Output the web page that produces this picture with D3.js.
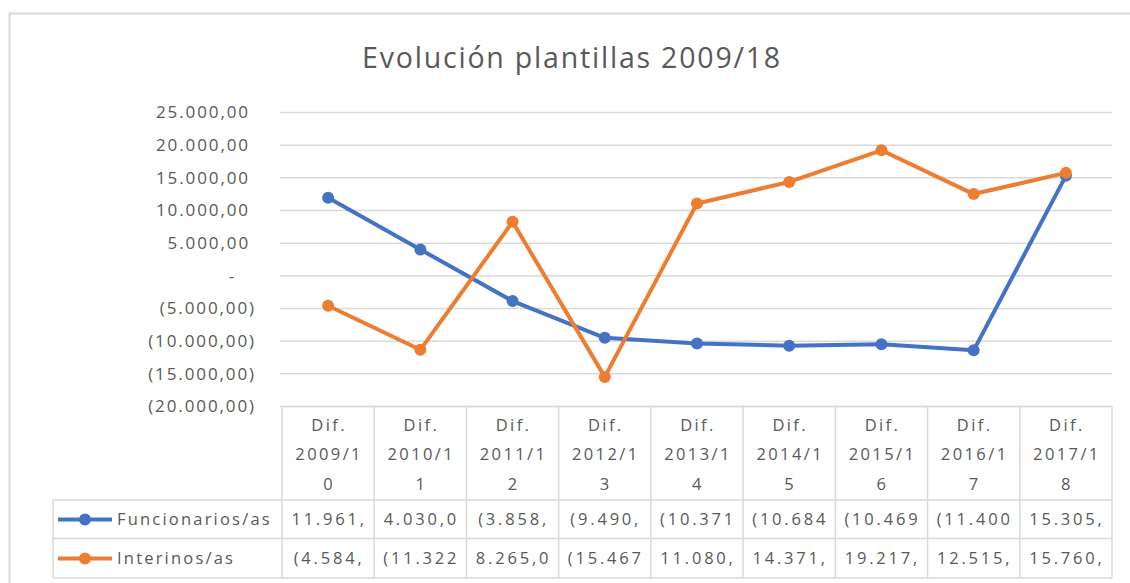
<!DOCTYPE html>
<html><head><meta charset="utf-8">
<script src="https://cdn.jsdelivr.net/npm/d3@7"></script>
<style>body{margin:0;background:#fff}svg{display:block}</style>
</head><body>
<svg id="c" width="1130" height="583"></svg>
<script>
const title = "Evolución plantillas 2009/18";
const categories = ["Dif. 2009/10","Dif. 2010/11","Dif. 2011/12","Dif. 2012/13","Dif. 2013/14","Dif. 2014/15","Dif. 2015/16","Dif. 2016/17","Dif. 2017/18"];
const seriesNames = ["Funcionarios/as","Interinos/as"];
const funcionarios = [11961, 4030, -3858, -9490, -10371, -10684, -10469, -11400, 15305];
const interinos = [-4584, -11322, 8265, -15467, 11080, 14371, 19217, 12515, 15760];
const yTicks = [-20000,-15000,-10000,-5000,0,5000,10000,15000,20000,25000];
const colors = ["#4472C4","#ED7D31"];

const svg = d3.select("#c");
const textColor = "#595959", gridColor = "#d9d9d9";
const font = "'Open Sans', sans-serif";
const loc = d3.formatLocale({decimal:",", thousands:".", grouping:[3], currency:["","€"]});
const fmt = loc.format(",.2f");

const series = [funcionarios, interinos].map((vals,i)=>({name:seriesNames[i], color:colors[i], values:vals}));

// outer frame
svg.append("rect").attr("x",9.5).attr("y",13.5).attr("width",1200).attr("height",700)
  .attr("fill","#fff").attr("stroke",gridColor).attr("stroke-width",2);

// title
svg.append("text").attr("x",572).attr("y",68).attr("text-anchor","middle")
  .attr("font-family",font).attr("font-size",28.5).attr("letter-spacing",1.8)
  .attr("fill",textColor).text(title);

const x = d3.scaleBand().domain(categories).range([282,1112]);
const y = d3.scaleLinear().domain([-20000,25000]).range([406.5,112.5]);

// gridlines
svg.append("g").selectAll("line").data(yTicks).join("line")
  .attr("x1",280).attr("x2",1112).attr("y1",d=>y(d)).attr("y2",d=>y(d))
  .attr("stroke",gridColor).attr("stroke-width",1.5);

// y axis
const yFmt = v => v===0 ? "-" : (v<0 ? "("+fmt(-v)+")" : fmt(v));
const yAxis = svg.append("g").attr("transform","translate(256,0)")
  .call(d3.axisLeft(y).tickValues(yTicks).tickSize(0).tickPadding(0).tickFormat(yFmt));
yAxis.select(".domain").remove();
yAxis.selectAll("text").attr("font-family",font).attr("font-size",17).attr("letter-spacing",1.9)
  .attr("fill",textColor)
  .attr("dx", d => d===0 ? -20 : (d>0 ? -6 : 0));

// lines
const line = d3.line().x((d,i)=>x(categories[i])+x.bandwidth()/2).y(d=>y(d));
const sg = svg.append("g").selectAll("g").data(series).join("g");
sg.append("path").attr("d",d=>line(d.values)).attr("fill","none")
  .attr("stroke",d=>d.color).attr("stroke-width",4).attr("stroke-linejoin","round");
sg.selectAll("circle").data(d=>d.values.map(v=>({v,c:d.color}))).join("circle")
  .attr("cx",(d,i)=>x(categories[i])+x.bandwidth()/2).attr("cy",d=>y(d.v))
  .attr("r",6).attr("fill",d=>d.c);

// data table
const tTop = 406.5, hBot = 500, r1Bot = 538.5, r2Bot = 578, legL = 53;
const tbl = svg.append("g").attr("stroke",gridColor).attr("stroke-width",1.5);
[tTop].forEach(yy=>tbl.append("line").attr("x1",282).attr("x2",1112).attr("y1",yy).attr("y2",yy));
[hBot, r1Bot, r2Bot].forEach(yy=>tbl.append("line").attr("x1",legL).attr("x2",1112).attr("y1",yy).attr("y2",yy));
tbl.append("line").attr("x1",legL).attr("x2",legL).attr("y1",hBot).attr("y2",r2Bot);
categories.forEach(c=>tbl.append("line").attr("x1",x(c)).attr("x2",x(c)).attr("y1",tTop).attr("y2",r2Bot));
tbl.append("line").attr("x1",1112).attr("x2",1112).attr("y1",tTop).attr("y2",r2Bot);

// header text
const hdr = svg.append("g").attr("font-family",font).attr("font-size",16.5).attr("letter-spacing",2.4)
  .attr("fill",textColor).attr("text-anchor","middle");
categories.forEach(c=>{
  const p = c.split(" ");
  const lines = [p[0], p[1].slice(0,6), p[1].slice(6)];
  lines.forEach((l,k)=>hdr.append("text").attr("x",x(c)+x.bandwidth()/2+1).attr("y",425+k*29.5)
    .attr("dy","0.35em").text(l));
});

// values
const accFmt = v => (v<0 ? "("+fmt(-v)+")" : fmt(v)+" ").slice(0,7);
const rowY = [519.5, 558.5];
series.forEach((s,si)=>{
  const g = svg.append("g").attr("font-family",font).attr("font-size",16.5)
    .attr("fill",textColor);
  s.values.forEach((v,i)=>g.append("text").attr("x",x(categories[i])+x.bandwidth()/2+1).attr("y",rowY[si])
    .attr("dy","0.35em").attr("letter-spacing",2.8).attr("text-anchor","middle").text(accFmt(v)));
  // legend key
  svg.append("line").attr("x1",58).attr("x2",112).attr("y1",rowY[si]).attr("y2",rowY[si])
    .attr("stroke",s.color).attr("stroke-width",4);
  svg.append("circle").attr("cx",85).attr("cy",rowY[si]).attr("r",6).attr("fill",s.color);
  g.append("text").attr("x",117).attr("y",rowY[si]).attr("dy","0.35em").attr("letter-spacing",2.2).text(s.name);
});
</script>
</body></html>
